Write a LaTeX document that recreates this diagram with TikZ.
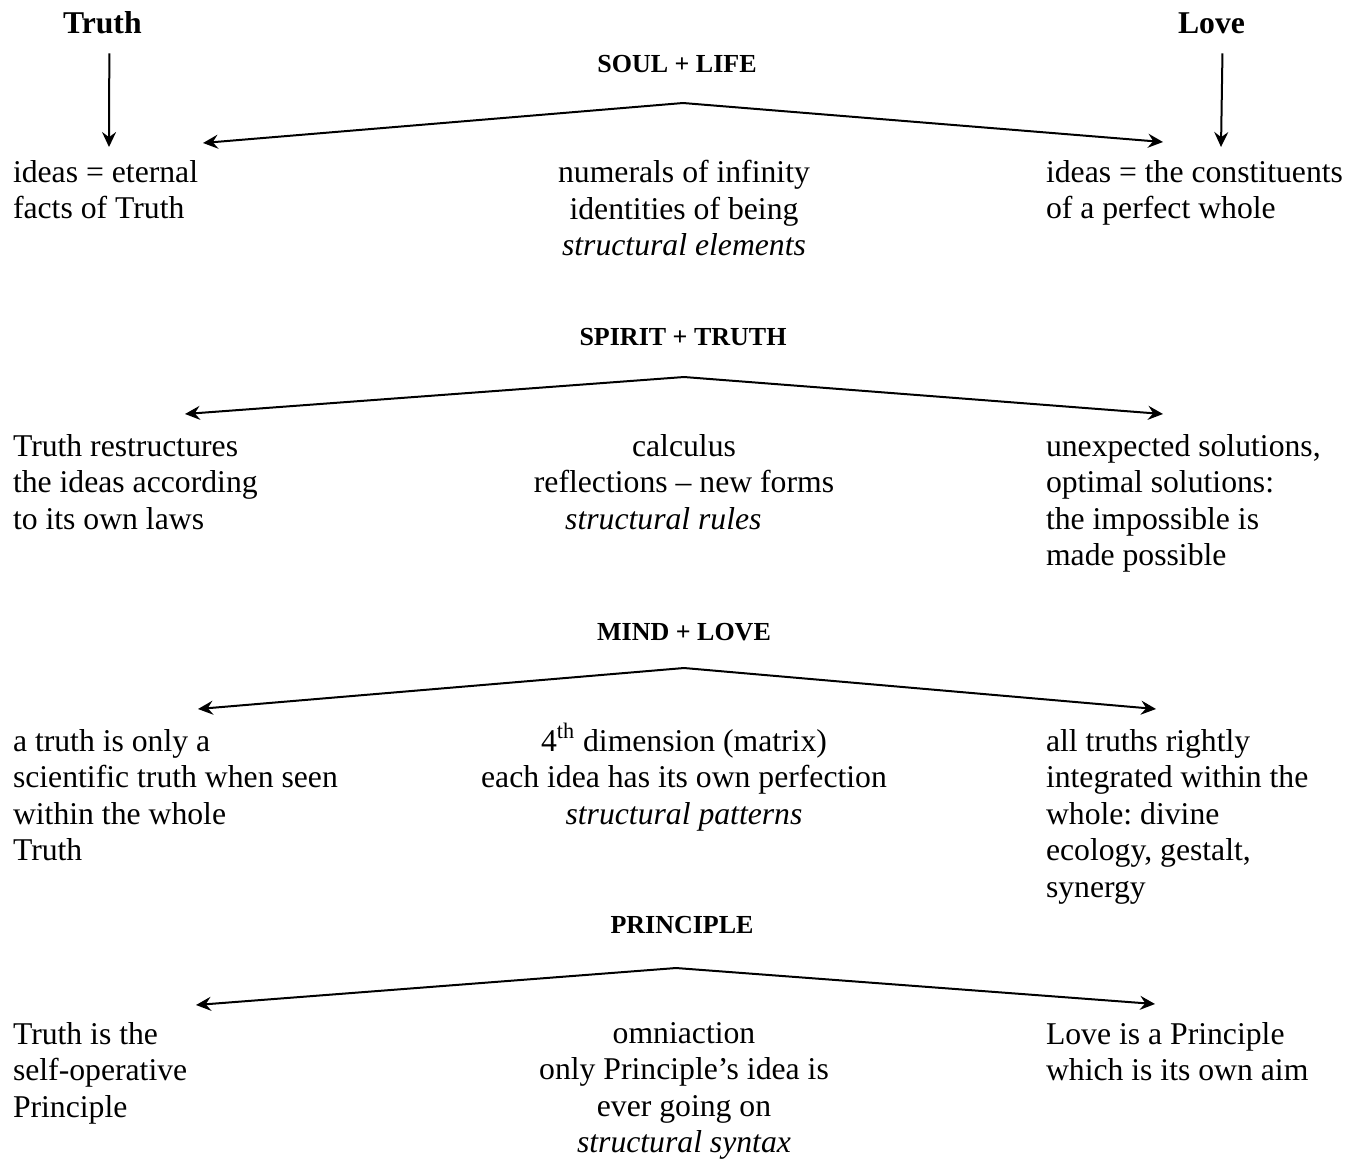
\documentclass[tikz,border=0pt]{standalone}
\usepackage{fontspec}
\setmainfont{Liberation Serif}
\usetikzlibrary{positioning,arrows.meta}
\frenchspacing

\begin{document}
\begin{tikzpicture}[
    x=0.5pt, y=-0.5pt,
    >={Stealth[length=7.5pt,width=7pt,inset=2.6pt]},
    every path/.style={line width=1pt},
    body/.style={font=\fontsize{15.85}{18.2}\selectfont, inner sep=0pt,
                 execute at begin node=\strut},
    sidetext/.style={body, align=left, anchor=north west},
    midtext/.style={body, align=center, anchor=north},
    heading/.style={font=\fontsize{13}{15}\selectfont\bfseries, inner sep=0pt, anchor=base},
    pole/.style={font=\fontsize{15.85}{18}\selectfont\bfseries, inner sep=0pt, anchor=base west}
]
\useasboundingbox (0,0) rectangle (1359,1158);

% the two poles on top
\node[pole] (truth) at (62,33) {Truth};
\node[pole] (love) at (1177,33) {Love};
\coordinate (truthtip) at (109,147);
\coordinate (lovetip) at (1221,147);
\draw[->] ([shift={(7,19)}]truth.south) -- (truthtip);
\draw[->] ([shift={(11,19)}]love.south) -- (lovetip);

% headings
\node[heading] (soul) at (677,72) {SOUL + LIFE};
\node[heading] (spirit) at (683,345) {SPIRIT + TRUTH};
\node[heading] (mind) at (684,640) {MIND + LOVE};
\node[heading] (principle) at (682,933) {PRINCIPLE};

% chevrons
\coordinate (apexA) at (683,103);
\coordinate (leftA) at (203,143);
\coordinate (rightA) at (1163,142);
\coordinate (apexB) at (684,377);
\coordinate (leftB) at (185,414);
\coordinate (rightB) at (1163,414);
\coordinate (apexC) at (684,668);
\coordinate (leftC) at (198,709);
\coordinate (rightC) at (1156,709);
\coordinate (apexD) at (676,968);
\coordinate (leftD) at (196,1005);
\coordinate (rightD) at (1155,1004);
\draw[<->] (leftA) -- (apexA) -- (rightA);
\draw[<->] (leftB) -- (apexB) -- (rightB);
\draw[<->] (leftC) -- (apexC) -- (rightC);
\draw[<->] (leftD) -- (apexD) -- (rightD);

% soul + life
\node[sidetext] (ideasA) at (12,159.5) {ideas = eternal\\facts of Truth};
\node[midtext] (numerals) at (684,159.5) {numerals of infinity\\identities of being\\\textit{structural elements}};
\node[sidetext] (ideasB) at (1045,159.5) {ideas = the constituents\\of a perfect whole};

% spirit + truth
\node[sidetext] (restruct) at (12,433.5) {Truth restructures\\the ideas according\\to its own laws};
\node[midtext] (calculus) at (684,433.5) {calculus\\reflections -- new forms\\\textit{structural rules}\hspace*{1.3em}};
\node[sidetext] (solutions) at (1045,433.5) {unexpected solutions,\\optimal solutions:\\the impossible is\\made possible};

% mind + love
\node[sidetext] (scientific) at (12,728.5) {a truth is only a\\scientific truth when seen\\within the whole\\Truth};
\node[midtext] (matrix) at (684,728.5) {4\smash{\textsuperscript{th}} dimension (matrix)\\each idea has its own perfection\\\textit{structural patterns}};
\node[sidetext] (integrated) at (1045,728.5) {all truths rightly\\integrated within the\\whole: divine\\ecology, gestalt,\\synergy};

% principle
\node[sidetext] (selfop) at (12,1021.5) {Truth is the\\self-operative\\Principle};
\node[midtext] (omni) at (684,1021.5) {omniaction\\only Principle's idea is\\ever going on\\\textit{structural syntax}};
\node[sidetext] (aim) at (1045,1021.5) {Love is a Principle\\which is its own aim};

\end{tikzpicture}
\end{document}
